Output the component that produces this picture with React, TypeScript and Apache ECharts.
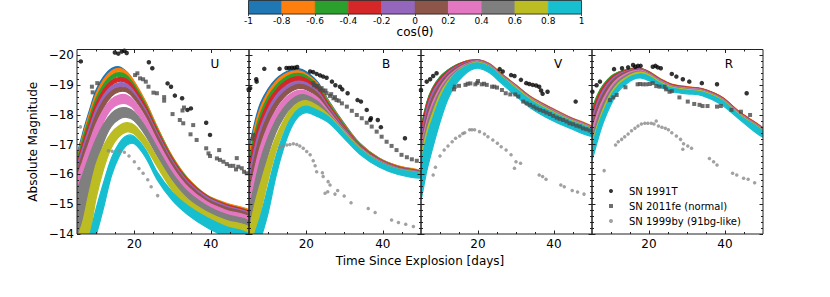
import React, { useEffect, useRef } from 'react';
import * as echarts from 'echarts';

const FONT = 'DejaVu Sans';

// time grid (days since explosion) for the model light-curve envelopes
const T = [5, 6.5, 8, 10, 12, 14, 16, 18, 20, 23, 26, 30, 34, 39, 44, 50];

const BIN_COLORS = ['#1f77b4', '#ff7f0e', '#2ca02c', '#d62728', '#9467bd', '#8c564b', '#e377c2', '#7f7f7f', '#bcbd22', '#17becf'];
const COS_EDGES = [-1, -0.8, -0.6, -0.4, -0.2, 0, 0.2, 0.4, 0.6, 0.8, 1];

const Y_MAJOR = [-20, -19, -18, -17, -16, -15, -14];
const Y_MINOR = [-19.8, -19.6, -19.4, -19.2, -18.8, -18.6, -18.4, -18.2, -17.8, -17.6, -17.4, -17.2, -16.8, -16.6, -16.4, -16.2, -15.8, -15.6, -15.4, -15.2, -14.8, -14.6, -14.4, -14.2];
const X_MAJOR = [20, 40];
const X_MINOR = [10, 15, 25, 30, 35, 45];

// ---------- U band: bright (hi) and faint (lo) edge of each cos(theta) bin ----------
const U_hi = [
  [-16.6, -17.4, -18.05, -18.85, -19.3, -19.56, -19.62, -19.45, -19.1, -18.42, -17.58, -16.58, -15.85, -15.28, -15.0, -14.78],
  [-16.5, -17.3, -17.95, -18.72, -19.2, -19.48, -19.57, -19.45, -19.12, -18.44, -17.6, -16.6, -15.88, -15.31, -15.04, -14.82],
  [-16.4, -17.2, -17.82, -18.56, -19.04, -19.32, -19.42, -19.33, -19.02, -18.36, -17.54, -16.56, -15.85, -15.29, -15.0, -14.77],
  [-16.3, -17.05, -17.65, -18.4, -18.87, -19.15, -19.26, -19.2, -18.92, -18.28, -17.48, -16.52, -15.82, -15.28, -14.99, -14.76],
  [-16.2, -16.9, -17.48, -18.2, -18.68, -18.97, -19.08, -19.04, -18.78, -18.17, -17.4, -16.45, -15.76, -15.24, -14.95, -14.72],
  [-16.0, -16.72, -17.3, -18.02, -18.5, -18.8, -18.92, -18.9, -18.67, -18.08, -17.32, -16.38, -15.7, -15.17, -14.9, -14.67],
  [-15.8, -16.45, -17.0, -17.7, -18.2, -18.53, -18.67, -18.67, -18.47, -17.9, -17.14, -16.24, -15.58, -15.08, -14.8, -14.58],
  [-15.4, -16.0, -16.55, -17.2, -17.7, -18.05, -18.22, -18.24, -18.1, -17.58, -16.9, -16.04, -15.42, -14.95, -14.66, -14.44],
  [-13.8, -14.4, -15.3, -16.35, -16.98, -17.4, -17.64, -17.74, -17.66, -17.2, -16.55, -15.75, -15.17, -14.74, -14.46, -14.24],
  [-13.0, -13.3, -13.8, -14.85, -15.75, -16.55, -17.05, -17.3, -17.28, -16.82, -16.08, -15.4, -14.95, -14.55, -14.25, -14.0],
];
const U_lo = [
  [-16.1, -17.05, -17.8, -18.68, -19.16, -19.44, -19.5, -19.33, -18.98, -18.28, -17.44, -16.44, -15.72, -15.14, -14.86, -14.64],
  [-15.9, -16.9, -17.6, -18.45, -19.02, -19.35, -19.45, -19.33, -19.0, -18.3, -17.46, -16.46, -15.74, -15.17, -14.9, -14.66],
  [-15.7, -16.7, -17.4, -18.25, -18.85, -19.18, -19.3, -19.21, -18.9, -18.22, -17.4, -16.42, -15.71, -15.15, -14.86, -14.62],
  [-15.5, -16.5, -17.2, -18.05, -18.65, -19.0, -19.13, -19.07, -18.79, -18.14, -17.34, -16.38, -15.68, -15.13, -14.84, -14.6],
  [-15.3, -16.3, -17.0, -17.85, -18.45, -18.82, -18.95, -18.91, -18.65, -18.03, -17.26, -16.31, -15.62, -15.09, -14.8, -14.56],
  [-15.0, -16.0, -16.75, -17.62, -18.25, -18.63, -18.78, -18.77, -18.54, -17.95, -17.18, -16.24, -15.55, -15.02, -14.74, -14.5],
  [-14.5, -15.4, -16.2, -17.1, -17.78, -18.2, -18.36, -18.37, -18.18, -17.62, -16.87, -15.98, -15.33, -14.84, -14.56, -14.34],
  [-13.8, -14.5, -15.3, -16.3, -17.1, -17.62, -17.86, -17.92, -17.8, -17.3, -16.62, -15.78, -15.16, -14.7, -14.4, -14.18],
  [-13.5, -13.5, -13.8, -15.2, -16.2, -16.9, -17.27, -17.43, -17.36, -16.9, -16.26, -15.46, -14.88, -14.45, -14.16, -13.95],
  [-13.0, -13.0, -13.2, -13.95, -14.9, -15.95, -16.6, -16.98, -17.03, -16.56, -15.82, -15.12, -14.65, -14.22, -13.9, -13.6],
];

// ---------- B band ----------
const B_hi = [
  [-16.75, -17.75, -18.4, -18.88, -19.2, -19.4, -19.52, -19.56, -19.45, -19.1, -18.45, -17.7, -17.05, -16.55, -16.28, -16.1],
  [-16.6, -17.6, -18.25, -18.78, -19.12, -19.34, -19.46, -19.48, -19.38, -19.05, -18.42, -17.68, -17.04, -16.55, -16.29, -16.13],
  [-16.4, -17.4, -18.05, -18.62, -18.98, -19.22, -19.36, -19.4, -19.32, -19.0, -18.38, -17.65, -17.02, -16.54, -16.27, -16.1],
  [-16.2, -17.2, -17.85, -18.45, -18.83, -19.08, -19.24, -19.29, -19.22, -18.92, -18.32, -17.6, -16.99, -16.52, -16.26, -16.09],
  [-15.9, -16.9, -17.6, -18.2, -18.63, -18.9, -19.07, -19.14, -19.08, -18.8, -18.25, -17.56, -16.96, -16.5, -16.24, -16.07],
  [-15.6, -16.6, -17.35, -18.0, -18.45, -18.75, -18.94, -19.03, -18.98, -18.72, -18.18, -17.52, -16.94, -16.49, -16.23, -16.06],
  [-15.2, -16.2, -16.95, -17.65, -18.15, -18.5, -18.72, -18.83, -18.8, -18.57, -18.1, -17.48, -16.92, -16.47, -16.21, -16.05],
  [-14.7, -15.7, -16.5, -17.25, -17.82, -18.22, -18.5, -18.66, -18.66, -18.45, -18.03, -17.45, -16.9, -16.45, -16.2, -16.04],
  [-14.0, -15.0, -15.7, -16.55, -17.25, -17.8, -18.2, -18.42, -18.48, -18.3, -17.98, -17.42, -16.88, -16.43, -16.18, -16.03],
  [-13.3, -14.0, -14.6, -15.6, -16.6, -17.35, -17.9, -18.2, -18.3, -18.15, -17.92, -17.38, -16.86, -16.42, -16.17, -16.03],
];
const B_lo = [
  [-16.3, -17.4, -18.15, -18.72, -19.08, -19.3, -19.42, -19.45, -19.33, -18.97, -18.33, -17.58, -16.94, -16.44, -16.17, -15.99],
  [-16.1, -17.2, -17.95, -18.58, -18.98, -19.22, -19.35, -19.37, -19.27, -18.93, -18.3, -17.56, -16.93, -16.44, -16.18, -16.02],
  [-15.8, -16.9, -17.7, -18.4, -18.83, -19.08, -19.23, -19.28, -19.2, -18.88, -18.26, -17.53, -16.91, -16.43, -16.16, -15.99],
  [-15.5, -16.6, -17.45, -18.18, -18.66, -18.93, -19.1, -19.16, -19.1, -18.8, -18.2, -17.48, -16.88, -16.41, -16.15, -15.98],
  [-15.1, -16.2, -17.1, -17.9, -18.43, -18.74, -18.93, -19.0, -18.95, -18.68, -18.13, -17.44, -16.85, -16.39, -16.13, -15.96],
  [-14.7, -15.8, -16.8, -17.65, -18.22, -18.57, -18.79, -18.89, -18.85, -18.6, -18.06, -17.4, -16.83, -16.38, -16.12, -15.95],
  [-14.2, -15.2, -16.2, -17.15, -17.8, -18.22, -18.48, -18.62, -18.6, -18.38, -17.93, -17.33, -16.78, -16.34, -16.09, -15.93],
  [-13.6, -14.5, -15.6, -16.65, -17.4, -17.9, -18.24, -18.42, -18.44, -18.25, -17.86, -17.3, -16.76, -16.33, -16.08, -15.92],
  [-13.2, -13.8, -14.7, -15.8, -16.75, -17.45, -17.92, -18.18, -18.26, -18.1, -17.8, -17.27, -16.74, -16.3, -16.05, -15.91],
  [-13.0, -13.2, -13.8, -14.7, -15.9, -16.85, -17.55, -17.95, -18.08, -17.94, -17.72, -17.2, -16.68, -16.25, -16.0, -15.88],
];

// ---------- V band ----------
const V_hi = [
  [-17.45, -18.4, -18.9, -19.28, -19.5, -19.66, -19.77, -19.84, -19.86, -19.72, -19.4, -19.0, -18.6, -18.25, -17.93, -17.6],
  [-17.2, -18.2, -18.75, -19.2, -19.47, -19.65, -19.77, -19.84, -19.86, -19.73, -19.41, -19.01, -18.61, -18.26, -17.94, -17.62],
  [-17.5, -18.42, -18.9, -19.27, -19.5, -19.66, -19.77, -19.83, -19.85, -19.71, -19.39, -18.99, -18.59, -18.24, -17.92, -17.6],
  [-17.4, -18.35, -18.85, -19.23, -19.47, -19.64, -19.76, -19.83, -19.85, -19.71, -19.39, -18.99, -18.59, -18.24, -17.92, -17.6],
  [-17.2, -18.2, -18.75, -19.15, -19.42, -19.6, -19.73, -19.81, -19.84, -19.7, -19.38, -18.98, -18.58, -18.23, -17.91, -17.59],
  [-17.0, -18.0, -18.6, -19.05, -19.36, -19.56, -19.7, -19.79, -19.83, -19.69, -19.37, -18.97, -18.57, -18.22, -17.9, -17.58],
  [-16.8, -17.8, -18.4, -18.92, -19.28, -19.5, -19.66, -19.77, -19.82, -19.68, -19.36, -18.96, -18.56, -18.21, -17.89, -17.57],
  [-16.7, -17.65, -18.25, -18.82, -19.2, -19.45, -19.62, -19.74, -19.8, -19.66, -19.34, -18.94, -18.54, -18.19, -17.87, -17.55],
  [-16.5, -17.45, -18.05, -18.7, -19.12, -19.4, -19.6, -19.72, -19.78, -19.64, -19.32, -18.92, -18.52, -18.16, -17.85, -17.53],
  [-16.3, -17.25, -17.85, -18.55, -19.05, -19.38, -19.58, -19.7, -19.75, -19.62, -19.3, -18.88, -18.48, -18.12, -17.82, -17.5],
];
const V_lo = [
  [-17.0, -18.0, -18.55, -19.05, -19.36, -19.56, -19.7, -19.76, -19.78, -19.63, -19.31, -18.91, -18.51, -18.16, -17.84, -17.51],
  [-15.9, -17.0, -17.9, -18.75, -19.25, -19.5, -19.66, -19.74, -19.77, -19.63, -19.31, -18.91, -18.51, -18.16, -17.84, -17.52],
  [-16.8, -17.8, -18.45, -18.95, -19.3, -19.52, -19.66, -19.74, -19.77, -19.62, -19.3, -18.9, -18.5, -18.15, -17.83, -17.51],
  [-16.6, -17.6, -18.3, -18.85, -19.25, -19.5, -19.65, -19.74, -19.77, -19.62, -19.3, -18.9, -18.5, -18.15, -17.83, -17.51],
  [-16.4, -17.4, -18.1, -18.72, -19.16, -19.44, -19.62, -19.72, -19.76, -19.61, -19.29, -18.89, -18.49, -18.14, -17.82, -17.5],
  [-16.2, -17.2, -17.9, -18.6, -19.08, -19.4, -19.59, -19.7, -19.75, -19.6, -19.28, -18.88, -18.48, -18.13, -17.81, -17.49],
  [-15.8, -16.8, -17.55, -18.4, -18.95, -19.3, -19.52, -19.66, -19.72, -19.57, -19.25, -18.85, -18.45, -18.1, -17.78, -17.46],
  [-15.9, -16.85, -17.5, -18.25, -18.85, -19.22, -19.46, -19.62, -19.7, -19.55, -19.23, -18.83, -18.43, -18.08, -17.76, -17.44],
  [-15.6, -16.55, -17.25, -18.05, -18.7, -19.12, -19.4, -19.57, -19.65, -19.5, -19.18, -18.78, -18.38, -18.02, -17.71, -17.4],
  [-15.2, -16.1, -16.85, -17.75, -18.5, -19.0, -19.3, -19.5, -19.57, -19.42, -19.08, -18.64, -18.22, -17.85, -17.56, -17.28],
];

// ---------- R band ----------
const R_hi = [
  [-18.1, -18.65, -19.0, -19.28, -19.43, -19.52, -19.57, -19.56, -19.45, -19.2, -19.02, -18.93, -18.87, -18.6, -18.07, -17.55],
  [-18.0, -18.6, -18.97, -19.27, -19.43, -19.52, -19.58, -19.57, -19.46, -19.22, -19.04, -18.95, -18.89, -18.62, -18.09, -17.57],
  [-18.15, -18.7, -19.02, -19.3, -19.44, -19.52, -19.57, -19.56, -19.45, -19.2, -19.02, -18.93, -18.87, -18.6, -18.07, -17.55],
  [-18.0, -18.6, -18.95, -19.25, -19.41, -19.5, -19.56, -19.55, -19.44, -19.2, -19.02, -18.94, -18.88, -18.61, -18.08, -17.56],
  [-17.8, -18.45, -18.85, -19.18, -19.37, -19.47, -19.54, -19.54, -19.43, -19.18, -19.0, -18.92, -18.86, -18.59, -18.06, -17.54],
  [-17.6, -18.3, -18.72, -19.1, -19.32, -19.44, -19.52, -19.52, -19.41, -19.16, -18.99, -18.91, -18.85, -18.58, -18.05, -17.53],
  [-17.4, -18.1, -18.55, -18.98, -19.24, -19.39, -19.48, -19.5, -19.39, -19.15, -18.98, -18.9, -18.84, -18.57, -18.04, -17.52],
  [-17.2, -17.9, -18.4, -18.87, -19.16, -19.33, -19.44, -19.47, -19.37, -19.13, -18.96, -18.88, -18.82, -18.55, -18.02, -17.5],
  [-17.0, -17.7, -18.22, -18.75, -19.08, -19.27, -19.4, -19.44, -19.35, -19.11, -18.94, -18.86, -18.8, -18.53, -18.0, -17.48],
  [-16.9, -17.6, -18.1, -18.65, -19.0, -19.2, -19.33, -19.38, -19.3, -19.07, -18.9, -18.83, -18.77, -18.5, -17.97, -17.45],
];
const R_lo = [
  [-17.6, -18.3, -18.75, -19.12, -19.32, -19.42, -19.47, -19.46, -19.35, -19.1, -18.92, -18.83, -18.77, -18.5, -17.97, -17.45],
  [-17.4, -18.15, -18.65, -19.07, -19.3, -19.41, -19.47, -19.46, -19.35, -19.11, -18.93, -18.84, -18.78, -18.51, -17.98, -17.46],
  [-17.6, -18.3, -18.75, -19.12, -19.32, -19.42, -19.47, -19.46, -19.35, -19.1, -18.92, -18.83, -18.77, -18.5, -17.97, -17.45],
  [-17.4, -18.15, -18.65, -19.05, -19.28, -19.39, -19.45, -19.45, -19.34, -19.1, -18.92, -18.84, -18.78, -18.51, -17.98, -17.46],
  [-17.2, -17.95, -18.5, -18.95, -19.22, -19.35, -19.43, -19.43, -19.33, -19.08, -18.9, -18.82, -18.76, -18.49, -17.96, -17.44],
  [-17.0, -17.75, -18.35, -18.85, -19.16, -19.31, -19.4, -19.41, -19.31, -19.06, -18.89, -18.81, -18.75, -18.48, -17.95, -17.43],
  [-16.8, -17.55, -18.15, -18.7, -19.06, -19.25, -19.36, -19.38, -19.28, -19.04, -18.87, -18.79, -18.73, -18.46, -17.93, -17.41],
  [-16.7, -17.4, -18.0, -18.58, -18.98, -19.19, -19.31, -19.35, -19.25, -19.02, -18.85, -18.77, -18.71, -18.44, -17.91, -17.39],
  [-16.6, -17.3, -17.88, -18.48, -18.9, -19.13, -19.27, -19.32, -19.23, -19.0, -18.83, -18.75, -18.69, -18.42, -17.89, -17.37],
  [-16.5, -17.15, -17.75, -18.35, -18.8, -19.04, -19.2, -19.24, -19.15, -18.93, -18.78, -18.71, -18.65, -18.35, -17.83, -17.25],
];

// ---------- observed supernovae [day, absolute magnitude] ----------
const U_91T = [[6.0, -19.8], [14.9, -20.1], [15.8, -20.06], [16.7, -20.13], [17.4, -20.16], [18.0, -20.08], [23.8, -19.77], [24.7, -19.57], [28.7, -19.06], [29.6, -18.95], [30.6, -18.65], [32.5, -18.56], [33.9, -18.17], [34.8, -18.22], [38.8, -17.74], [39.8, -17.33], [49.9, -18.86]];
const U_11fe = [[8.9, -18.95], [9.1, -18.76], [10.3, -19.07], [20.2, -19.34], [20.8, -19.4], [21.5, -19.23], [22.3, -19.2], [23.0, -19.12], [23.7, -18.95], [25.0, -18.75], [25.9, -18.73], [27.8, -18.6], [27.8, -18.48], [30.0, -18.03], [31.9, -17.83], [32.6, -18.15], [32.8, -17.72], [33.0, -18.25], [34.7, -17.35], [35.4, -17.66], [36.3, -17.16], [38.8, -16.88], [39.4, -16.71], [39.8, -16.62], [41.6, -16.54], [42.2, -16.82], [42.4, -16.49], [43.3, -16.43], [44.2, -16.35], [45.0, -16.29], [45.9, -16.29], [46.6, -16.17], [46.8, -16.55], [47.2, -16.26], [48.1, -16.21], [48.7, -16.09], [49.4, -16.04]];
const U_99by = [[5.9, -17.6], [13.2, -16.8], [14.2, -16.78], [16.2, -16.79], [17.4, -16.75], [18.6, -16.62], [20.0, -16.43], [21.2, -16.2], [22.3, -16.04], [23.5, -15.82], [24.4, -15.59], [26.1, -15.29]];

const B_91T = [[5.3, -18.9], [6.9, -19.2], [7.0, -19.12], [9.0, -19.55], [13.0, -19.55], [14.8, -19.58], [15.5, -19.58], [16.2, -19.59], [16.9, -19.59], [17.6, -19.61], [21.0, -19.46], [21.8, -19.44], [22.7, -19.38], [23.6, -19.33], [24.4, -19.29], [25.3, -19.25], [26.7, -19.12], [27.6, -19.0], [28.8, -18.95], [29.4, -18.86], [30.8, -18.73], [33.4, -18.5], [34.3, -18.45], [35.8, -18.17], [36.7, -17.83], [36.9, -17.89], [38.7, -17.83], [39.5, -17.59], [45.8, -17.22]];
const B_11fe = [[5.9, -17.2], [6.1, -17.33], [21.8, -19.07], [22.0, -19.0], [22.7, -18.95], [23.0, -18.98], [23.6, -18.86], [24.0, -18.9], [24.4, -18.82], [25.0, -18.82], [25.3, -18.73], [26.2, -18.64], [26.5, -18.7], [27.1, -18.56], [27.5, -18.6], [27.9, -18.5], [28.5, -18.48], [29.3, -18.39], [30.6, -18.28], [31.9, -18.14], [33.2, -18.0], [34.5, -17.89], [35.8, -17.74], [37.1, -17.61], [38.4, -17.44], [39.7, -17.27], [41.0, -17.1], [42.3, -16.96], [43.6, -16.82], [44.9, -16.66], [46.3, -16.58], [47.6, -16.51], [48.9, -16.46]];
const B_99by = [[13.1, -16.91], [14.0, -16.96], [14.9, -16.99], [15.7, -17.01], [16.6, -17.03], [17.5, -17.01], [18.3, -16.96], [19.2, -16.88], [20.1, -16.77], [21.0, -16.66], [21.8, -16.46], [22.3, -16.29], [22.7, -16.09], [24.2, -16.06], [24.4, -15.93], [25.7, -15.76], [26.2, -15.65], [24.9, -15.37], [25.6, -15.42], [27.5, -15.34], [28.2, -15.46], [29.9, -15.28], [31.7, -15.05], [36.2, -14.86], [38.0, -14.72], [42.3, -14.47], [44.1, -14.39], [46.0, -14.33], [48.0, -14.25]];

const V_91T = [[5.0, -18.84], [6.5, -19.12], [7.4, -19.2], [8.2, -19.31], [9.1, -19.4], [25.7, -19.54], [26.5, -19.46], [28.7, -19.34], [29.6, -19.31], [31.3, -19.18], [32.7, -19.07], [33.5, -19.04], [34.4, -19.01], [35.3, -18.99], [36.1, -18.95], [36.6, -18.82], [37.0, -18.71], [38.3, -18.78], [45.7, -18.45]];
const V_11fe = [[13.7, -18.86], [13.9, -18.95], [15.0, -18.98], [16.7, -19.01], [17.3, -19.05], [18.0, -19.06], [19.3, -19.03], [19.8, -19.08], [20.0, -19.14], [21.0, -19.03], [21.6, -19.05], [22.3, -19.01], [23.7, -18.95], [24.3, -18.95], [25.0, -18.92], [26.3, -18.84], [27.3, -18.73], [28.5, -18.69], [29.8, -18.69], [30.6, -18.62], [31.9, -18.45], [32.8, -18.39], [33.7, -18.34], [34.6, -18.28], [35.4, -18.22], [36.3, -18.17], [37.2, -18.13], [38.0, -18.08], [38.9, -18.03], [39.8, -17.97], [40.7, -17.91], [41.5, -17.87], [42.4, -17.83], [43.3, -17.78], [44.1, -17.72], [45.0, -17.69], [45.9, -17.64], [46.8, -17.61], [47.6, -17.55], [48.5, -17.52], [49.4, -17.48]];
const V_99by = [[8.2, -15.98], [8.8, -16.24], [10.0, -16.62], [11.1, -16.82], [12.1, -16.96], [13.2, -17.1], [14.1, -17.22], [15.2, -17.29], [16.0, -17.38], [16.5, -17.4], [17.8, -17.5], [18.4, -17.5], [19.1, -17.5], [20.4, -17.44], [21.7, -17.36], [22.6, -17.27], [23.9, -17.16], [25.1, -17.05], [26.1, -16.93], [27.4, -16.82], [28.7, -16.66], [29.6, -16.21], [30.0, -16.43], [31.2, -16.38], [36.1, -15.98], [37.0, -15.93], [37.9, -15.84], [41.8, -15.65], [42.7, -15.59], [44.8, -15.46], [46.2, -15.41], [47.9, -15.34]];

const R_91T = [[5.1, -18.78], [6.2, -19.0], [7.1, -19.12], [10.8, -19.54], [12.9, -19.57], [14.5, -19.6], [15.8, -19.68], [16.4, -19.62], [17.1, -19.65], [17.8, -19.65], [21.0, -19.62], [21.7, -19.65], [22.3, -19.6], [23.1, -19.57], [26.0, -19.38], [27.2, -19.29], [28.9, -19.2], [30.6, -19.12], [33.9, -19.07], [37.9, -19.03], [45.7, -18.73]];
const R_11fe = [[9.7, -18.5], [10.6, -18.59], [11.5, -18.67], [13.8, -18.93], [17.0, -19.03], [17.6, -19.04], [18.4, -19.03], [19.3, -19.03], [20.2, -19.04], [21.0, -19.07], [21.9, -18.97], [22.8, -18.95], [24.1, -18.95], [24.5, -18.86], [25.4, -18.78], [26.0, -18.8], [28.0, -18.59], [30.2, -18.45], [31.9, -18.37], [33.3, -18.34], [34.1, -18.3], [35.4, -18.3], [37.9, -18.28], [38.9, -18.3], [41.7, -18.17], [44.2, -18.11], [46.6, -18.0]];
const R_99by = [[8.2, -16.13], [11.2, -16.99], [11.9, -17.1], [12.8, -17.18], [13.6, -17.27], [14.5, -17.36], [15.4, -17.47], [16.3, -17.55], [17.1, -17.63], [18.0, -17.7], [18.9, -17.72], [19.7, -17.72], [20.6, -17.72], [21.3, -17.7], [21.9, -17.8], [22.5, -17.63], [23.4, -17.59], [24.3, -17.55], [25.1, -17.5], [26.0, -17.4], [27.2, -17.29], [28.3, -17.18], [29.1, -17.03], [28.9, -16.85], [30.2, -16.96], [31.2, -16.88], [35.9, -16.54], [37.0, -16.43], [37.9, -16.32], [42.0, -16.04], [43.1, -15.98], [44.9, -15.87], [46.1, -15.84], [47.8, -15.72]];

const BANDS = ['U', 'B', 'V', 'R'];
const HI = [U_hi, B_hi, V_hi, R_hi];
const LO = [U_lo, B_lo, V_lo, R_lo];
const OBS_91T = [U_91T, B_91T, V_91T, R_91T];
const OBS_11FE = [U_11fe, B_11fe, V_11fe, R_11fe];
const OBS_99BY = [U_99by, B_99by, V_99by, R_99by];

const SN_NAMES = ['SN 1991T', 'SN 2011fe (normal)', 'SN 1999by (91bg-like)'];

export default function App() {
  const ref = useRef<HTMLDivElement>(null);

  useEffect(() => {
    if (!ref.current) return;
    const chart = echarts.init(ref.current, null, { renderer: 'svg' });

    const lefts = [77, 249, 421, 592];
    const widths = [172, 172, 171, 171];
    const TOP = 49.5;
    const HEIGHT = 184.5;
    const tickLine = { color: '#222', width: 1 };

    const grids: any[] = lefts.map((l, i) => ({
      left: l, top: TOP, width: widths[i], height: HEIGHT,
      show: true, borderColor: '#222', borderWidth: 1, backgroundColor: 'transparent', z: 10,
    }));
    grids.push({ left: 77, top: TOP, width: 686, height: HEIGHT, show: false });
    grids.push({ left: 248.5, top: 0.5, width: 333, height: 13.5, show: true, borderColor: '#222', borderWidth: 0.8, z: 10 });

    const xAxes: any[] = [];
    const yAxes: any[] = [];
    const mkX = (g: number, pos: string, vals: number[], len: number, labels: boolean) => ({
      gridIndex: g, type: 'value', min: 5, max: 50, position: pos, z: 10,
      axisLine: { show: false }, splitLine: { show: false },
      axisTick: { show: true, inside: true, length: len, customValues: vals, lineStyle: tickLine },
      axisLabel: labels
        ? { show: true, customValues: vals, fontSize: 12, color: '#000', margin: 4, fontFamily: FONT }
        : { show: false },
    });
    const mkY = (g: number, pos: string, vals: number[], len: number, labels: boolean, name?: string) => ({
      gridIndex: g, type: 'value', inverse: true, min: -20.2, max: -14, position: pos, z: 10,
      axisLine: { show: false }, splitLine: { show: false },
      axisTick: { show: true, inside: true, length: len, customValues: vals, lineStyle: tickLine },
      axisLabel: labels
        ? {
            show: true, customValues: vals, fontSize: 12, color: '#000', margin: 3, fontFamily: FONT,
            formatter: (v: number) => '\u2212' + String(Math.abs(Math.round(v))),
          }
        : { show: false },
      name: name || '', nameLocation: 'middle', nameGap: 38,
      nameTextStyle: { fontSize: 12, color: '#000', fontFamily: FONT },
    });

    for (let p = 0; p < 4; p++) {
      xAxes.push(mkX(p, 'bottom', X_MAJOR, 3.5, true));
      xAxes.push(mkX(p, 'bottom', X_MINOR, 2, false));
      xAxes.push(mkX(p, 'top', X_MAJOR, 3.5, false));
      xAxes.push(mkX(p, 'top', X_MINOR, 2, false));
      yAxes.push(mkY(p, 'left', Y_MAJOR, 3.5, p === 0, p === 0 ? 'Absolute Magnitude' : ''));
      yAxes.push(mkY(p, 'left', Y_MINOR, 2, false));
      yAxes.push(mkY(p, 'right', Y_MAJOR, 3.5, false));
      yAxes.push(mkY(p, 'right', Y_MINOR, 2, false));
    }
    // shared x title (grid 4)
    xAxes.push({
      gridIndex: 4, type: 'value', min: 0, max: 1, position: 'bottom',
      axisLine: { show: false }, axisTick: { show: false }, axisLabel: { show: false }, splitLine: { show: false },
      name: 'Time Since Explosion [days]', nameLocation: 'middle', nameGap: 21,
      nameTextStyle: { fontSize: 12, color: '#000', fontFamily: FONT },
    });
    yAxes.push({ gridIndex: 4, type: 'value', show: false, min: 0, max: 1 });
    // colorbar axes (grid 5)
    xAxes.push({
      gridIndex: 5, type: 'value', min: -1, max: 1, interval: 0.2, position: 'bottom',
      axisLine: { show: false }, splitLine: { show: false },
      axisTick: { show: true, inside: false, length: 2, lineStyle: { color: '#222', width: 0.8 } },
      axisLabel: {
        show: true, fontSize: 9, color: '#000', margin: 2, fontFamily: FONT,
        formatter: (v: number) => String(Math.round(v * 10) / 10),
      },
      name: 'cos(\u03b8)', nameLocation: 'middle', nameGap: 12,
      nameTextStyle: { fontSize: 12, color: '#000', fontFamily: FONT },
    });
    yAxes.push({ gridIndex: 5, type: 'value', show: false, min: 0, max: 1 });

    const series: any[] = [];
    for (let p = 0; p < 4; p++) {
      for (let k = 0; k < 10; k++) {
        const hi = HI[p][k];
        const lo = LO[p][k];
        const color = BIN_COLORS[k];
        series.push({
          type: 'custom',
          name: BANDS[p] + ' bin ' + k,
          xAxisIndex: p * 4, yAxisIndex: p * 4,
          clip: true, silent: true, z: 2,
          data: T.map((t, i) => [t, hi[i], lo[i]]),
          encode: { x: 0, y: [1, 2] },
          renderItem: (params: any, api: any) => {
            if (params.dataIndex !== 0) return null;
            const n = params.dataInsideLength;
            const up: number[][] = [];
            const dn: number[][] = [];
            for (let i = 0; i < n; i++) {
              up.push(api.coord([api.value(0, i), api.value(1, i)]));
              dn.push(api.coord([api.value(0, i), api.value(2, i)]));
            }
            dn.reverse();
            return {
              type: 'polygon',
              shape: { points: up.concat(dn), smooth: 0.35 },
              style: { fill: color, stroke: color, lineWidth: 1.2 },
            };
          },
        });
      }
      series.push({
        type: 'scatter', name: SN_NAMES[0], xAxisIndex: p * 4, yAxisIndex: p * 4, z: 5,
        data: OBS_91T[p], symbol: 'circle', symbolSize: 4.5, itemStyle: { color: '#000' }, silent: true,
      });
      series.push({
        type: 'scatter', name: SN_NAMES[1], xAxisIndex: p * 4, yAxisIndex: p * 4, z: 5,
        data: OBS_11FE[p], symbol: 'rect', symbolSize: 4, itemStyle: { color: '#4a4a4a' }, silent: true,
      });
      series.push({
        type: 'scatter', name: SN_NAMES[2], xAxisIndex: p * 4, yAxisIndex: p * 4, z: 5,
        data: OBS_99BY[p], symbol: 'circle', symbolSize: 3.5, itemStyle: { color: '#8a8a8a' }, silent: true,
      });
    }
    // colorbar
    series.push({
      type: 'custom', name: 'colorbar', xAxisIndex: 17, yAxisIndex: 17, silent: true, z: 2,
      data: BIN_COLORS.map((c, k) => [COS_EDGES[k], COS_EDGES[k + 1]]),
      encode: { x: [0, 1] },
      renderItem: (params: any, api: any) => {
        const a = api.coord([api.value(0), 1]);
        const b = api.coord([api.value(1), 0]);
        return {
          type: 'rect',
          shape: { x: a[0], y: a[1], width: b[0] - a[0], height: b[1] - a[1] },
          style: { fill: BIN_COLORS[params.dataIndex], stroke: BIN_COLORS[params.dataIndex], lineWidth: 0.5 },
        };
      },
    });

    const letterX = [215, 386, 558, 729];
    const graphic = BANDS.map((b, i) => ({
      type: 'text', x: letterX[i], y: 64, z: 20,
      style: { text: b, fontSize: 12, fontFamily: FONT, fill: '#000', align: 'center', verticalAlign: 'middle' },
    }));

    const option: any = {
      animation: false,
      backgroundColor: '#fff',
      textStyle: { fontFamily: FONT },
      grid: grids,
      xAxis: xAxes,
      yAxis: yAxes,
      legend: {
        left: 604, top: 180, orient: 'vertical', itemWidth: 26, itemHeight: 4, itemGap: 3,
        selectedMode: false, symbolKeepAspect: true,
        textStyle: { fontSize: 10, color: '#000', fontFamily: FONT, lineHeight: 12 },
        data: [
          { name: SN_NAMES[0], icon: 'circle' },
          { name: SN_NAMES[1], icon: 'path://M0,0L10,0L10,10L0,10Z' },
          { name: SN_NAMES[2], icon: 'circle' },
        ],
      },
      graphic,
      series,
    };
    chart.setOption(option);
    return () => chart.dispose();
  }, []);

  return <div ref={ref} style={{ position: 'absolute', left: 0, top: 0, width: 830, height: 297 }} />;
}
